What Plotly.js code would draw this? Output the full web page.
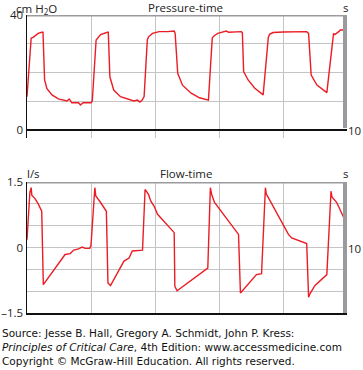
<!DOCTYPE html>
<html><head><meta charset="utf-8">
<script src="https://cdn.plot.ly/plotly-3.0.1.min.js"></script>
<style>html,body{margin:0;padding:0;background:#fff;}#chart{width:363px;height:370px;}</style>
</head><body><div id="chart"></div>
<script>
// Pressure-time (s, cm H2O)
const pressureTime = [0,0.13,0.2,0.3,0.35,0.46,0.5,0.55,0.62,0.78,0.98,1.25,1.32,1.40,1.61,1.67,1.75,2.0,2.04,2.16,2.3,2.51,2.54,2.59,2.71,2.92,3.19,3.34,3.45,3.53,3.6,3.66,3.76,3.8,3.92,4.13,4.4,4.6,4.63,4.71,4.86,5.13,5.39,5.67,5.79,5.85,5.96,6.23,6.3,6.70,6.73,6.77,6.91,7.12,7.38,7.54,7.58,7.69,8.0,8.74,8.8,8.88,9.06,9.37,9.58,9.62,9.74,9.79,9.95];
const pressure = [11.6,31.9,32.3,33.2,33.6,34,34,17.4,14.5,12.2,10.8,10.1,10.8,9.5,9.5,8.7,9.5,9.5,10.1,31.3,33.2,34,34,18.5,13.9,11.6,10.8,10.1,10.4,9.7,10.4,11.6,31.3,32.4,33.6,34.2,34.2,34.4,33.6,19.7,15.6,12.8,11.2,10.4,32.1,32.8,33.6,34.4,34,34.2,33.8,20.3,17.4,14.5,12.2,32.1,33.3,33.9,34.1,34.2,33.6,19.1,15.6,13.0,33.6,33.2,34.2,34.8,34.8];
// Flow-time (s, l/s)
const flowTime = [0,0.09,0.13,0.15,0.25,0.35,0.46,0.51,1.19,1.35,1.46,1.61,1.72,1.82,1.96,2.0,2.12,2.15,2.3,2.48,2.53,2.61,3.03,3.11,3.19,3.29,3.61,3.69,3.8,3.87,3.97,4.08,4.60,4.62,4.69,5.65,5.73,5.77,5.86,6.61,6.67,6.72,7.17,7.33,7.45,7.48,7.53,8.17,8.27,8.74,8.80,8.85,9.0,9.37,9.50,9.53,9.68,9.95];
const flow = [0.18,1.26,1.37,1.2,1.12,1.0,0.83,-0.85,-0.16,-0.14,-0.06,-0.03,0.01,-0.02,-0.02,0.05,1.37,1.18,1.03,0.83,-0.81,-0.87,-0.31,-0.28,-0.24,-0.08,-0.06,1.33,1.21,1.06,0.95,0.76,0.34,-0.89,-0.99,-0.47,1.37,1.22,1.03,0.30,-1.04,-1.0,-0.62,-0.6,1.37,1.22,1.16,0.30,0.22,0.09,-1.14,-1.05,-0.87,-0.62,1.29,1.16,1.03,0.60];

const pressureTickVals = [0,10,20,30,40];
const pressureTickText = ['0','','','','40'];
const flowTickVals = [-1.5,-1,-0.5,0,0.5,1,1.5];
const flowTickText = ['\u20131.5','','','0','','','1.5'];
const timeGridVals = [2,4,6,8];

const W=363,H=370;
const px = p => p/W, py = p => 1 - p/H;
const red = '#ec1c24', grid = '#c4c4c4', bar = '#9b9b9f';
const lblFont = {family:'Open Sans, sans-serif', size:11.5, color:'#222'};
const srcFont = {family:'DejaVu Sans, Verdana, sans-serif', size:10.5, color:'#111'};

const traces = [
  {x:pressureTime, y:pressure, xaxis:'x', yaxis:'y', mode:'lines', line:{color:red, width:1.4}, hoverinfo:'skip'},
  {x:flowTime, y:flow, xaxis:'x2', yaxis:'y2', mode:'lines', line:{color:red, width:1.4}, hoverinfo:'skip'}
];

const xCommon = {range:[0,10], domain:[px(27), px(347)], tickvals:timeGridVals, showticklabels:false, ticks:'', showgrid:true, gridcolor:grid, gridwidth:1, zeroline:false, fixedrange:true};

const layout = {
  width:W, height:H, margin:{l:0,r:0,t:0,b:0}, paper_bgcolor:'#fff', plot_bgcolor:'#fff', showlegend:false,
  xaxis: Object.assign({}, xCommon, {anchor:'y', showline:false}),
  xaxis2: Object.assign({}, xCommon, {anchor:'y2', showline:true, linecolor:'#111', linewidth:1.5}),
  yaxis: {range:[-40*8/115, 40], domain:[py(138), py(15)], anchor:'x', tickvals:pressureTickVals, ticktext:pressureTickText, ticks:'', tickfont:lblFont, showgrid:true, gridcolor:grid, zeroline:true, zerolinecolor:'#111', zerolinewidth:1.2, showline:true, linecolor:'#111', linewidth:1.5, fixedrange:true},
  yaxis2: {range:[-1.5, 1.5], domain:[py(313), py(182)], anchor:'x2', tickvals:flowTickVals, ticktext:flowTickText, ticks:'', tickfont:lblFont, showgrid:true, gridcolor:grid, zeroline:false, showline:true, linecolor:'#111', linewidth:1.5, fixedrange:true},
  shapes: [
    {type:'line', xref:'paper', yref:'y', x0:px(27), x1:px(347), y0:40, y1:40, line:{color:bar, width:3}},
    {type:'line', xref:'paper', yref:'y', x0:px(345), x1:px(345), y0:40, y1:0.7, line:{color:bar, width:4}},
    {type:'line', xref:'paper', yref:'y2', x0:px(27), x1:px(347), y0:1.5, y1:1.5, line:{color:bar, width:3}},
    {type:'line', xref:'paper', yref:'y2', x0:px(345), x1:px(345), y0:1.5, y1:-1.5, line:{color:bar, width:4}}
  ],
  annotations: [
    {text:'cm H<sub>2</sub>O', xref:'paper', yref:'paper', x:px(15), y:py(0), xanchor:'left', yanchor:'top', showarrow:false, font:lblFont, borderpad:0},
    {text:'Pressure-time', xref:'paper', yref:'paper', x:px(186), y:py(7), xanchor:'center', yanchor:'middle', showarrow:false, font:lblFont},
    {text:'s', xref:'paper', yref:'paper', x:px(345), y:py(7), xanchor:'center', yanchor:'middle', showarrow:false, font:lblFont},
    {text:'10', xref:'paper', yref:'paper', x:px(362), y:py(130), xanchor:'right', yanchor:'middle', showarrow:false, font:lblFont, borderpad:0},
    {text:'l/s', xref:'paper', yref:'paper', x:px(25), y:py(173), xanchor:'left', yanchor:'middle', showarrow:false, font:lblFont},
    {text:'Flow-time', xref:'paper', yref:'paper', x:px(186), y:py(173), xanchor:'center', yanchor:'middle', showarrow:false, font:lblFont},
    {text:'s', xref:'paper', yref:'paper', x:px(345), y:py(173), xanchor:'center', yanchor:'middle', showarrow:false, font:lblFont},
    {text:'10', xref:'paper', yref:'paper', x:px(362), y:py(248), xanchor:'right', yanchor:'middle', showarrow:false, font:lblFont, borderpad:0},
    {text:'Source: Jesse B. Hall, Gregory A. Schmidt, John P. Kress:', xref:'paper', yref:'paper', x:px(0), y:py(333), xanchor:'left', yanchor:'middle', showarrow:false, font:srcFont},
    {text:'<i>Principles of Critical Care</i>, 4th Edition: www.accessmedicine.com', xref:'paper', yref:'paper', x:px(0), y:py(347), xanchor:'left', yanchor:'middle', showarrow:false, font:srcFont},
    {text:'Copyright \u00a9 McGraw-Hill Education. All rights reserved.', xref:'paper', yref:'paper', x:px(0), y:py(361), xanchor:'left', yanchor:'middle', showarrow:false, font:srcFont}
  ]
};
Plotly.newPlot('chart', traces, layout, {staticPlot:true, displayModeBar:false});
</script></body></html>
